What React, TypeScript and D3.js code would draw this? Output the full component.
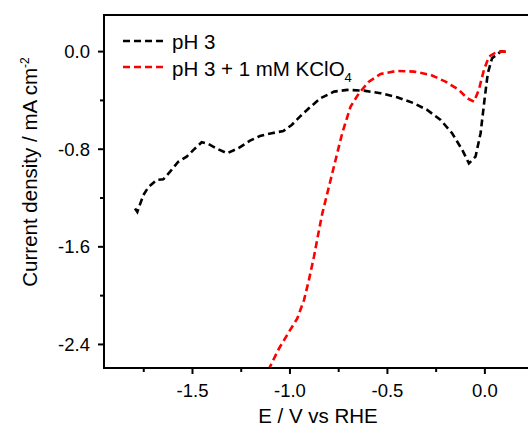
import React from "react";
import * as d3 from "d3";

const phE = [-1.795, -1.783, -1.752, -1.727, -1.684, -1.65, -1.615, -1.573, -1.53, -1.496, -1.453, -1.419, -1.368, -1.322, -1.265, -1.205, -1.154, -1.094, -1.034, -0.991, -0.949, -0.903, -0.843, -0.774, -0.706, -0.621, -0.535, -0.45, -0.364, -0.296, -0.227, -0.168, -0.116, -0.082, -0.048, -0.022, -0.002, 0.015, 0.037, 0.081, 0.114];
const phJ = [-1.285, -1.313, -1.176, -1.112, -1.052, -1.047, -0.984, -0.903, -0.861, -0.807, -0.743, -0.757, -0.801, -0.833, -0.792, -0.73, -0.692, -0.669, -0.651, -0.601, -0.533, -0.464, -0.382, -0.328, -0.314, -0.32, -0.341, -0.374, -0.423, -0.478, -0.56, -0.669, -0.806, -0.916, -0.861, -0.669, -0.396, -0.177, -0.054, 0.0, 0.0];

const kE = [-1.12, -1.103, -1.056, -1.005, -0.963, -0.928, -0.903, -0.877, -0.851, -0.834, -0.8, -0.766, -0.732, -0.689, -0.646, -0.595, -0.535, -0.45, -0.364, -0.278, -0.202, -0.133, -0.091, -0.056, -0.031, -0.005, 0.021, 0.063, 0.114];
const kJ = [-2.7, -2.584, -2.433, -2.297, -2.188, -2.037, -1.873, -1.682, -1.463, -1.326, -1.107, -0.888, -0.669, -0.451, -0.341, -0.246, -0.183, -0.158, -0.164, -0.191, -0.246, -0.314, -0.382, -0.41, -0.314, -0.15, -0.041, 0.0, 0.0];

const xMajor = [-1.5, -1.0, -0.5, 0.0];
const xMinor = [-1.75, -1.25, -0.75, -0.25, 0.25];
const yMajor = [0.0, -0.8, -1.6, -2.4];
const yMinor = [-0.4, -1.2, -2.0];

const W = 528, H = 437;
const L = 104, T = 15, B = 368, R = 534;

export default function App() {
  const x = d3.scaleLinear().domain([-1.954, 0.252]).range([L, R]);
  const y = d3.scaleLinear().domain([0.3, -2.593]).range([T, B]);
  const line = d3.line<[number, number]>().x(d => x(d[0])).y(d => y(d[1]));
  const black = line(phE.map((e, i) => [e, phJ[i]]))!;
  const red = line(kE.map((e, i) => [e, kJ[i]]))!;
  const font = "Arial, 'Liberation Sans', sans-serif";
  const fmt = (v: number) => v.toFixed(1);
  return (
    <svg width={W} height={H} style={{ position: "absolute", left: 0, top: 0, background: "#fff" }} fontFamily={font}>
      <defs>
        <clipPath id="plot"><rect x={L} y={T} width={R - L} height={B - T} /></clipPath>
      </defs>
      <g clipPath="url(#plot)" fill="none" strokeWidth={2.6} strokeDasharray="7 4">
        <path d={black} stroke="#000" />
        <path d={red} stroke="#ff0000" />
      </g>
      {/* frame */}
      <line x1={L} x2={W} y1={T} y2={T} stroke="#000" strokeWidth={2} />
      <line x1={L} x2={L} y1={T - 1} y2={B + 1} stroke="#000" strokeWidth={2} />
      <line x1={L - 1} x2={W} y1={B} y2={B} stroke="#000" strokeWidth={2} />
      {xMajor.map(v => (
        <g key={"xm" + v}>
          <line x1={x(v)} x2={x(v)} y1={B} y2={B + 6} stroke="#000" strokeWidth={2} />
          <text x={x(v)} y={397} textAnchor="middle" fontSize={18.5}>{fmt(v)}</text>
        </g>
      ))}
      {xMinor.map(v => (
        <line key={"xn" + v} x1={x(v)} x2={x(v)} y1={B} y2={B + 4} stroke="#000" strokeWidth={2} />
      ))}
      {yMajor.map(v => (
        <g key={"ym" + v}>
          <line x1={L - 6} x2={L} y1={y(v)} y2={y(v)} stroke="#000" strokeWidth={2} />
          <text x={90} y={y(v) + 6.5} textAnchor="end" fontSize={18.5}>{fmt(v)}</text>
        </g>
      ))}
      {yMinor.map(v => (
        <line key={"yn" + v} x1={L - 4} x2={L} y1={y(v)} y2={y(v)} stroke="#000" strokeWidth={2} />
      ))}
      <text x={318} y={423} textAnchor="middle" fontSize={20.5}>E / V vs RHE</text>
      <text transform="translate(37,172) rotate(-90)" textAnchor="middle" fontSize={20.5}>
        Current density / mA cm<tspan dy={-8} fontSize={12}>-2</tspan>
      </text>
      {/* legend */}
      <line x1={123} x2={163} y1={41} y2={41} stroke="#000" strokeWidth={2.6} strokeDasharray="7 4" />
      <text x={172} y={49} fontSize={20.5}>pH 3</text>
      <line x1={123} x2={163} y1={67} y2={67} stroke="#ff0000" strokeWidth={2.6} strokeDasharray="7 4" />
      <text x={172} y={75.5} fontSize={20.5}>
        pH 3 + 1 mM KClO<tspan dy={6} fontSize={13}>4</tspan>
      </text>
    </svg>
  );
}
